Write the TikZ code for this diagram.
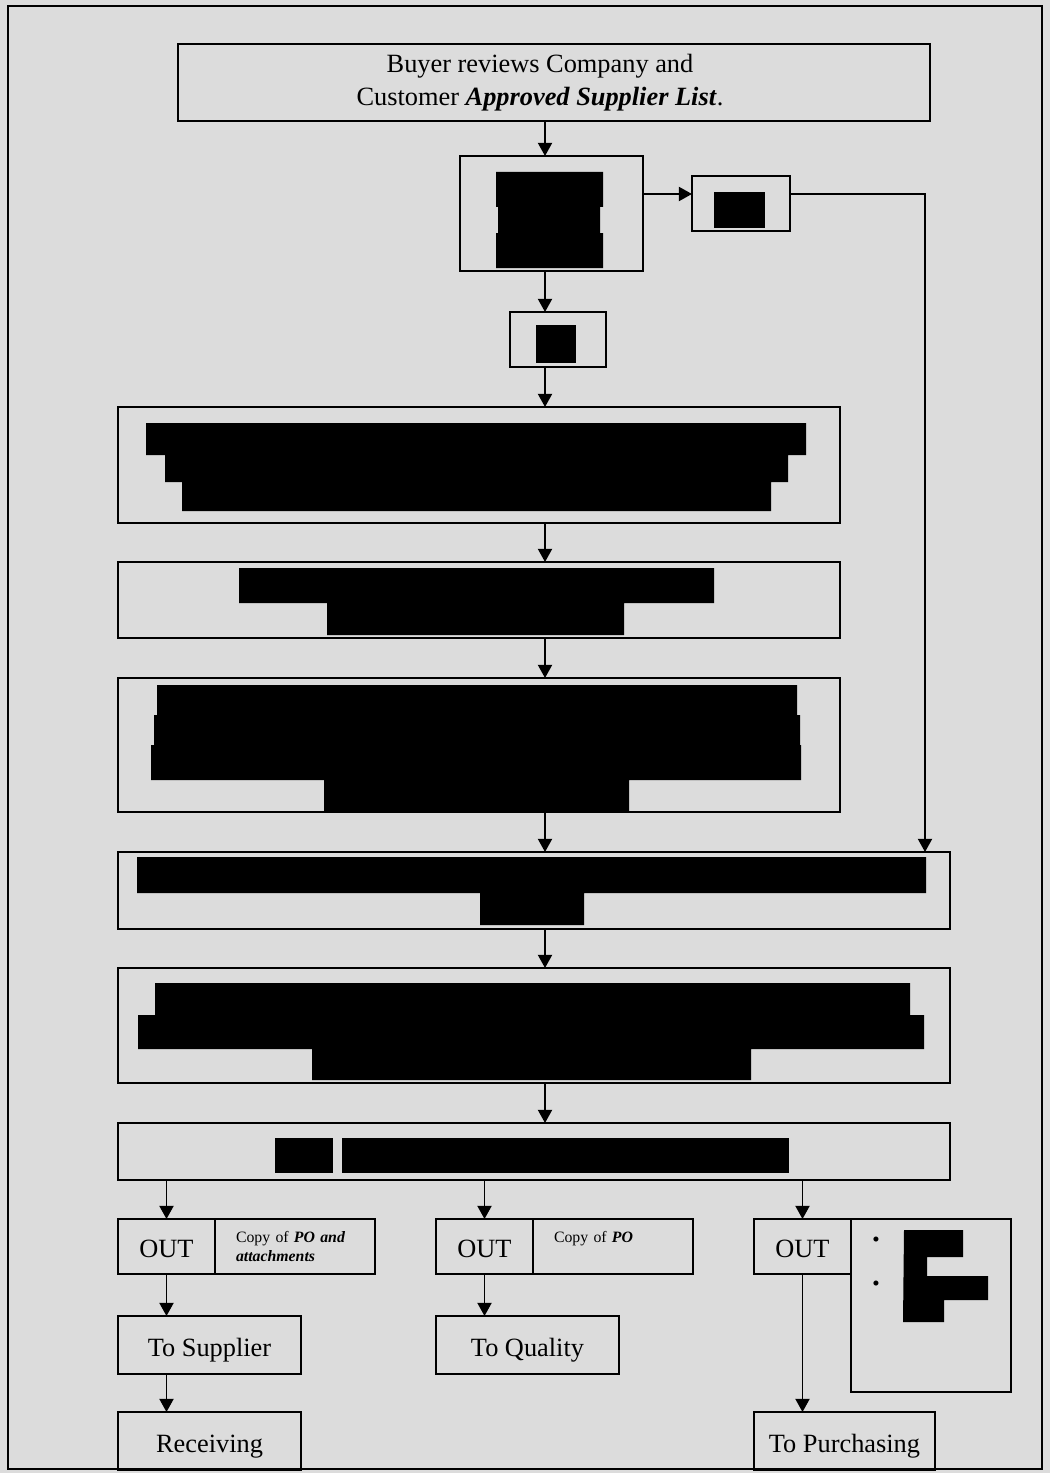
\documentclass[tikz,border=0pt]{standalone}
\usepackage{fontspec}
\setmainfont{Liberation Serif}
\usepackage{tikz}
\usetikzlibrary{arrows.meta, positioning, calc}
\definecolor{pagefill}{HTML}{DCDCDC}
\newdimen\pxu
\pxu=0.02cm
\tikzset{
  blk/.style={rectangle, draw=black, line width=1.1pt, inner sep=0pt, outer sep=0pt, anchor=north west, align=center, font=\fontsize{15}{17.5}\selectfont},
  one/.style={blk, text height=16pt, text depth=3pt},
  note/.style={blk, align=left, text width=118\pxu, font=\fontsize{9}{10.5}\selectfont},
  dot/.style={inner sep=0pt, font=\fontsize{12}{12}\selectfont},
  hide/.style={fill=black},
  arr/.style={-{Triangle[length=7.5pt, width=8pt]}, line width=1.1pt, draw=black},
  frame/.style={draw=black, line width=1.5pt},
}

\begin{document}
\begin{tikzpicture}[x=0.02cm, y=-0.02cm]
  \fill[pagefill] (0,0) rectangle (1050,1473);
  \useasboundingbox (0,0) rectangle (1050,1473);
  \coordinate (spine) at (545,0);
  \coordinate (row) at (0,194);
  \coordinate (rail) at (925,0);

  \node[blk, minimum width=752\pxu, minimum height=77\pxu] (asl) at (178,44)
    {Buyer reviews Company and\hspace*{28\pxu}\\[1pt]Customer \textbf{\textit{Approved Supplier List}}.\hspace*{28\pxu}};
  \node[blk, minimum width=183\pxu, minimum height=115\pxu] (sel) at (460,156) {};
  \node[blk, minimum width=98\pxu, minimum height=55\pxu] (alt) at (692,176) {};
  \node[blk, minimum width=96\pxu, minimum height=55\pxu] (ok) at (510,312) {};
  \node[blk, minimum width=722\pxu, minimum height=116\pxu] (s5) at (118,407) {};
  \node[blk, minimum width=722\pxu, minimum height=76\pxu] (s6) at (118,562) {};
  \node[blk, minimum width=722\pxu, minimum height=134\pxu] (s7) at (118,678) {};
  \node[blk, minimum width=832\pxu, minimum height=77\pxu] (s8) at (118,852) {};
  \node[blk, minimum width=832\pxu, minimum height=115\pxu] (s9) at (118,968) {};
  \node[blk, minimum width=832\pxu, minimum height=57\pxu] (po) at (118,1123) {};

  \node[one, minimum width=97\pxu, minimum height=55\pxu] (out1) at (118,1219) {OUT};
  \node[note, minimum width=160\pxu, minimum height=55\pxu] (cp1) at (out1.north east)
    {Copy of \textbf{\textit{PO and}}\\\textbf{\textit{attachments}}};
  \node[one, minimum width=97\pxu, minimum height=55\pxu] (out2) at (436,1219) {OUT};
  \node[note, minimum width=160\pxu, minimum height=55\pxu] (cp2) at (out2.north east)
    {Copy of \textbf{\textit{PO}}\\\mbox{}};
  \node[one, minimum width=97\pxu, minimum height=55\pxu] (out3) at (754,1219) {OUT};
  \node[blk, minimum width=160\pxu, minimum height=173\pxu] (cp3) at (out3.north east) {};
  \node[dot] (dot1) at (876,1242) {\textbullet};
  \node[dot] (dot2) at (876,1286) {\textbullet};

  \node[one, minimum width=183\pxu, minimum height=58\pxu] (sup) at (118,1316) {To Supplier};
  \node[one, minimum width=183\pxu, minimum height=58\pxu] (qual) at (436,1316) {To Quality};
  \node[one, minimum width=183\pxu, minimum height=58\pxu] (recv) at (118,1412) {Receiving};
  \node[one, minimum width=181\pxu, minimum height=58\pxu] (purch) at (754,1412) {To Purchasing};

  \fill[hide] (496,172) -- (603,172) -- (603,207) -- (600,207) -- (600,233) -- (603,233)
    -- (603,268) -- (496,268) -- (496,233) -- (498,233) -- (498,207) -- (496,207) -- cycle;
  \fill[hide] (714,192) rectangle (765,228);
  \fill[hide] (536,325) rectangle (576,363);
  \fill[hide] (146,423) -- (806,423) -- (806,455) -- (788,455) -- (788,482) -- (771,482)
    -- (771,511) -- (182,511) -- (182,482) -- (165,482) -- (165,455) -- (146,455) -- cycle;
  \fill[hide] (239,568) -- (714,568) -- (714,603) -- (624,603) -- (624,635) -- (327,635)
    -- (327,603) -- (239,603) -- cycle;
  \fill[hide] (157,685) -- (797,685) -- (797,715) -- (800,715) -- (800,745) -- (801,745)
    -- (801,780) -- (629,780) -- (629,811) -- (324,811) -- (324,780) -- (151,780)
    -- (151,745) -- (154,745) -- (154,715) -- (157,715) -- cycle;
  \fill[hide] (137,857) -- (926,857) -- (926,893) -- (584,893) -- (584,925) -- (480,925)
    -- (480,893) -- (137,893) -- cycle;
  \fill[hide] (155,983) -- (910,983) -- (910,1015) -- (924,1015) -- (924,1049) -- (751,1049)
    -- (751,1080) -- (312,1080) -- (312,1049) -- (138,1049) -- (138,1015) -- (155,1015) -- cycle;
  \fill[hide] (275,1138) rectangle (333,1173);
  \fill[hide] (342,1138) rectangle (789,1173);
  \fill[hide] (904,1230) -- (963,1230) -- (963,1257) -- (927,1257) -- (927,1276) -- (988,1276)
    -- (988,1300) -- (944,1300) -- (944,1322) -- (903,1322) -- cycle;

  \draw[arr] (asl.south -| spine) -- (sel.north -| spine);
  \draw[arr] (sel.east |- row) -- (alt.west |- row);
  \draw[arr] (alt.east |- row) -| (s8.north -| rail);
  \draw[arr] (sel.south -| spine) -- (ok.north -| spine);
  \draw[arr] (ok.south -| spine) -- (s5.north -| spine);
  \draw[arr] (s5.south -| spine) -- (s6.north -| spine);
  \draw[arr] (s6.south -| spine) -- (s7.north -| spine);
  \draw[arr] (s7.south -| spine) -- (s8.north -| spine);
  \draw[arr] (s8.south -| spine) -- (s9.north -| spine);
  \draw[arr] (s9.south -| spine) -- (po.north -| spine);
  \draw[arr] (po.south -| out1.north) -- (out1.north);
  \draw[arr] (po.south -| out2.north) -- (out2.north);
  \draw[arr] (po.south -| out3.north) -- (out3.north);
  \draw[arr] (out1.south) -- (sup.north -| out1.south);
  \draw[arr] (sup.south -| out1.south) -- (recv.north -| out1.south);
  \draw[arr] (out2.south) -- (qual.north -| out2.south);
  \draw[arr] (out3.south) -- (purch.north -| out3.south);

  \draw[frame] (8,6) rectangle (1042,1469);
\end{tikzpicture}
\end{document}
